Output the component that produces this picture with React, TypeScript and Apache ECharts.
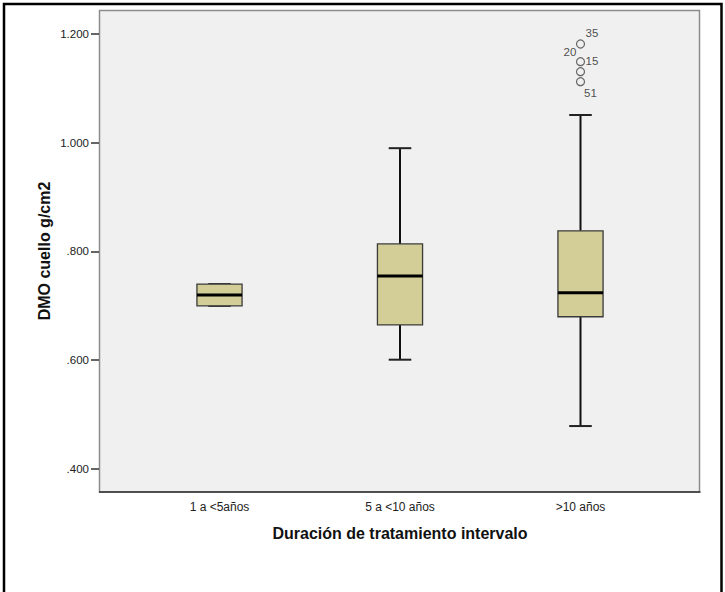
import React, { useEffect, useRef } from "react";
import * as echarts from "echarts";

// Treatment-duration groups on the x axis
const categories = ["1 a <5años", "5 a <10 años", ">10 años"];

// Five-number summaries of femoral-neck BMD (g/cm2) per group
const whiskerLow = [0.7, 0.601, 0.479];
const quartile1 = [0.7, 0.665, 0.68];
const medians = [0.72, 0.755, 0.724];
const quartile3 = [0.74, 0.814, 0.838];
const whiskerHigh = [0.74, 0.99, 1.051];

// Outliers of the ">10 años" group and their case numbers
const outlierGroup = [2, 2, 2, 2];
const outlierValues = [1.1816, 1.1491, 1.1307, 1.1123];
const outlierCases = ["35", "20", "15", "51"];

// Y-axis tick values
const yTicks = [0.4, 0.6, 0.8, 1.0, 1.2];

const FONT = "'Liberation Sans', Arial, sans-serif";

// Where each case label sits around its circle
const labelOffsets: [number, number][] = [
  [11.5, -11],
  [-10.5, -10],
  [11.5, -11],
  [10, 11],
];

export default function App() {
  const ref = useRef<HTMLDivElement>(null);

  useEffect(() => {
    if (!ref.current) return;
    const chart = echarts.init(ref.current, null, { renderer: "svg" });

    const boxData = categories.map((_, i) => [
      i,
      whiskerLow[i],
      quartile1[i],
      medians[i],
      quartile3[i],
      whiskerHigh[i],
    ]);

    const outlierData = outlierValues.map((v, i) => ({
      value: [outlierGroup[i], v],
      label: {
        show: true,
        formatter: outlierCases[i],
        position: "inside",
        offset: labelOffsets[i],
      },
    }));

    const fmtY = (v: number) => v.toFixed(3).replace(/^0(?=\.)/, "");

    const option: any = {
      animation: false,
      backgroundColor: "#ffffff",
      textStyle: { fontFamily: FONT },
      grid: { left: 129.25, right: 54.25, top: 10, bottom: 100 },
      xAxis: {
        type: "category",
        data: categories,
        boundaryGap: true,
        axisLine: { show: false },
        axisTick: {
          alignWithLabel: true,
          length: 6,
          lineStyle: { color: "#333", width: 1.5 },
        },
        axisLabel: { fontSize: 12, color: "#222", margin: 9, fontFamily: FONT },
        splitLine: { show: false },
      },
      yAxis: {
        type: "value",
        min: 0.3577,
        max: 1.2441,
        offset: 30.25,
        axisLine: { show: false },
        splitLine: { show: false },
        axisTick: {
          show: true,
          customValues: yTicks,
          length: 8,
          lineStyle: { color: "#333", width: 1.5 },
        },
        axisLabel: {
          customValues: yTicks,
          formatter: fmtY,
          fontSize: 11.5,
          color: "#222",
          margin: 10,
          fontFamily: FONT,
        },
      },
      graphic: {
        elements: [
          {
            type: "rect",
            z: -10,
            shape: { x: 4, y: 4, width: 717.5, height: 640 },
            style: { fill: "#ffffff", stroke: "#000", lineWidth: 2.5 },
          },
          {
            type: "rect",
            z: -5,
            shape: { x: 99.5, y: 10.5, width: 600, height: 481.5 },
            style: { fill: "#F0F0F0", stroke: "#8c8c8c", lineWidth: 1.5 },
          },
          {
            type: "line",
            z: -4,
            shape: { x1: 99, y1: 492, x2: 700.5, y2: 492 },
            style: { stroke: "#333", lineWidth: 1.5 },
          },
          {
            type: "text",
            x: 400,
            y: 533,
            style: {
              text: "Duración de tratamiento intervalo",
              font: `bold 16px ${FONT}`,
              fill: "#111",
              align: "center",
              verticalAlign: "middle",
            },
          },
          {
            type: "text",
            x: 44,
            y: 251,
            rotation: Math.PI / 2,
            style: {
              text: "DMO cuello g/cm2",
              font: `bold 16px ${FONT}`,
              fill: "#111",
              align: "center",
              verticalAlign: "middle",
            },
          },
        ],
      },
      series: [
        {
          type: "custom",
          data: boxData,
          encode: { x: 0, y: [1, 2, 3, 4, 5] },
          z: 3,
          renderItem: (params: any, api: any) => {
            const idx = api.value(0);
            const lo = api.coord([idx, api.value(1)]);
            const q1 = api.coord([idx, api.value(2)]);
            const md = api.coord([idx, api.value(3)]);
            const q3 = api.coord([idx, api.value(4)]);
            const hi = api.coord([idx, api.value(5)]);
            const band = api.size([1, 0])[0];
            const halfBox = band * 0.125;
            const halfCap = band * 0.0625;
            const cx = md[0];
            const lineStyle = { stroke: "#111", lineWidth: 2 };
            return {
              type: "group",
              children: [
                {
                  type: "line",
                  shape: { x1: cx, y1: hi[1], x2: cx, y2: q3[1] },
                  style: lineStyle,
                },
                {
                  type: "line",
                  shape: { x1: cx, y1: q1[1], x2: cx, y2: lo[1] },
                  style: lineStyle,
                },
                {
                  type: "line",
                  shape: { x1: cx - halfCap, y1: hi[1], x2: cx + halfCap, y2: hi[1] },
                  style: { stroke: "#222", lineWidth: 2 },
                },
                {
                  type: "line",
                  shape: { x1: cx - halfCap, y1: lo[1], x2: cx + halfCap, y2: lo[1] },
                  style: { stroke: "#222", lineWidth: 2 },
                },
                {
                  type: "rect",
                  shape: {
                    x: cx - halfBox,
                    y: q3[1],
                    width: halfBox * 2,
                    height: q1[1] - q3[1],
                  },
                  style: { fill: "#D3CE98", stroke: "#3a3a3a", lineWidth: 1.3 },
                },
                {
                  type: "line",
                  shape: { x1: cx - halfBox, y1: md[1], x2: cx + halfBox, y2: md[1] },
                  style: { stroke: "#000", lineWidth: 3 },
                },
              ],
            };
          },
        },
        {
          type: "scatter",
          data: outlierData,
          symbol: "circle",
          symbolSize: 8,
          z: 4,
          itemStyle: {
            color: "rgba(0,0,0,0)",
            borderColor: "#444",
            borderWidth: 1.2,
          },
          label: {
            fontSize: 11.5,
            color: "#222",
            fontFamily: FONT,
            align: "center",
            verticalAlign: "middle",
          },
          emphasis: { disabled: true },
        },
      ],
    };

    chart.setOption(option);
    return () => chart.dispose();
  }, []);

  return (
    <div
      ref={ref}
      style={{ position: "absolute", left: 0, top: 0, width: 725, height: 592 }}
    />
  );
}
